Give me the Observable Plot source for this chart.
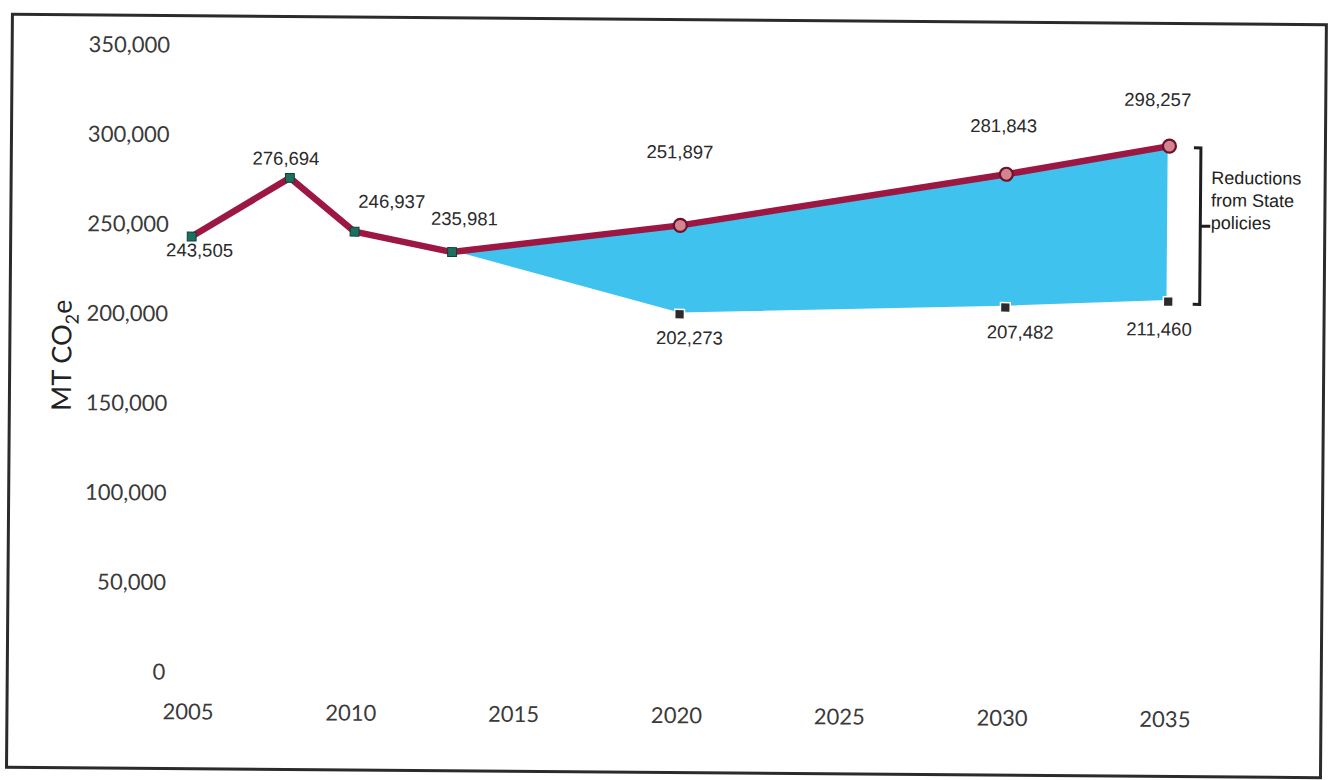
<!DOCTYPE html>
<html><head><meta charset="utf-8">
<script src="https://cdn.jsdelivr.net/npm/d3@7"></script>
<script src="https://cdn.jsdelivr.net/npm/@observablehq/plot@0.6"></script>
<style>
html,body{margin:0;padding:0;background:#fff;overflow:hidden;}
#wrap{position:relative;width:1330px;height:780px;transform:rotate(0.45deg);transform-origin:665px 390px;}
#frame{position:absolute;left:8px;top:18px;width:1317px;height:756px;box-sizing:border-box;border:3px solid #2b2b2b;pointer-events:none;}
#chart{position:absolute;left:0;top:0;}
</style></head><body>
<div id="wrap"><div id="chart"></div><div id="frame"></div></div>
<script>
// ---- data ----
const histYears = [2005, 2008, 2010, 2013];
const histValues = [243505, 276694, 246937, 235981];
const projYears = [2020, 2030, 2035];
const baselineValues = [251897, 281843, 298257];
const policyValues = [202273, 207482, 211460];
const xTicks = [2005, 2010, 2015, 2020, 2025, 2030, 2035];
const yTicks = [0, 50000, 100000, 150000, 200000, 250000, 300000, 350000];
const bracketLabel = "Reductions\nfrom State\npolicies";
const yLabelParts = ["MT CO", "2", "e"];

// ---- derived tables ----
const hist = histYears.map((year, i) => ({year, value: histValues[i]}));
const start = hist[hist.length - 1];
const proj = [{year: start.year, base: start.value, policy: start.value},
  ...projYears.map((year, i) => ({year, base: baselineValues[i], policy: policyValues[i]}))];
const mainLine = [...hist, ...proj.slice(1).map(d => ({year: d.year, value: d.base}))];
const projPts = proj.slice(1);
const last = projPts[projPts.length - 1];
const fmt = d3.format(",");

// label offsets (style)
const histOff = [[8, 14], [-4, -19], [37, -30], [12, -33]];
const baseOff = [[-1, -73], [-3, -48], [-12, -46]];
const polOff = [[10, 24], [15, 25], [-9, 28]];

const labelStyle = {fontFamily: "Liberation Sans, Arial, sans-serif", fontSize: 18.5, fill: "#2a2a2a"};
const lineColor = "#9c1843";

const chart = Plot.plot({
  width: 1330, height: 780,
  marginLeft: 190, marginRight: 163, marginTop: 49, marginBottom: 104,
  style: {fontFamily: "Lato, sans-serif", fontSize: "22px", color: "#3a3a3a", background: "transparent"},
  x: {domain: [2005, 2035], ticks: xTicks, tickFormat: d => String(d), tickSize: 0, tickPadding: 31, label: null},
  y: {domain: [0, 350000], ticks: yTicks, tickFormat: fmt, tickSize: 0, tickPadding: 23, label: null},
  marks: [
    Plot.areaY(proj, {x: "year", y1: "policy", y2: "base", fill: "#40c2ef", stroke: "white", strokeWidth: 2.5}),
    Plot.line(mainLine, {x: "year", y: "value", stroke: lineColor, strokeWidth: 6.5, strokeLinejoin: "round"}),
    Plot.dot(hist, {x: "year", y: "value", symbol: "square", r: 5, fill: "#1d7060", stroke: "#123f36", strokeWidth: 1}),
    Plot.dot(projPts, {x: "year", y: "base", r: 6.5, fill: "#d4848f", stroke: "#6e0f2c", strokeWidth: 2.2}),
    Plot.dot(projPts, {x: "year", y: "policy", symbol: "square", r: 5.5, fill: "#2b2b2b", stroke: "white", strokeWidth: 1.5}),
    ...hist.map((d, i) => Plot.text([d], {x: "year", y: "value", text: d => fmt(d.value), dx: histOff[i][0], dy: histOff[i][1], ...labelStyle})),
    ...projPts.map((d, i) => Plot.text([d], {x: "year", y: "base", text: d => fmt(d.base), dx: baseOff[i][0], dy: baseOff[i][1], ...labelStyle})),
    ...projPts.map((d, i) => Plot.text([d], {x: "year", y: "policy", text: d => fmt(d.policy), dx: polOff[i][0], dy: polOff[i][1], ...labelStyle})),
    Plot.text([last], {x: "year", y: d => (d.base + d.policy) / 2, text: () => bracketLabel, dx: 42, dy: -25,
      textAnchor: "start", lineHeight: 1.25, fontFamily: "Liberation Sans, Arial, sans-serif", fontSize: 18, fill: "#222"})
  ]
});
document.getElementById("chart").appendChild(chart);

// bracket drawn through the plot's own scales
const sx = chart.scale("x"), sy = chart.scale("y");
const bx = sx.apply(last.year) + 32;
const yTop = sy.apply(last.base) + 2, yBot = sy.apply(last.policy) + 3;
const yMid = (yTop + yBot) / 2;
const svg = d3.select(chart);
svg.append("path")
  .attr("d", `M${bx - 7},${yTop}H${bx}V${yBot}H${bx - 7}M${bx},${yMid}H${bx + 10}`)
  .attr("fill", "none").attr("stroke", "#1e1e1e").attr("stroke-width", 3);

// y axis title with subscript
const yl = svg.append("text")
  .attr("transform", "translate(71,360) rotate(-90)")
  .attr("text-anchor", "middle")
  .attr("font-family", "Lato, sans-serif").attr("font-size", 27).attr("fill", "#222");
yl.append("tspan").text(yLabelParts[0]);
yl.append("tspan").attr("font-size", 18).attr("dy", 7).text(yLabelParts[1]);
yl.append("tspan").attr("dy", -7).text(yLabelParts[2]);
</script>
</body></html>
